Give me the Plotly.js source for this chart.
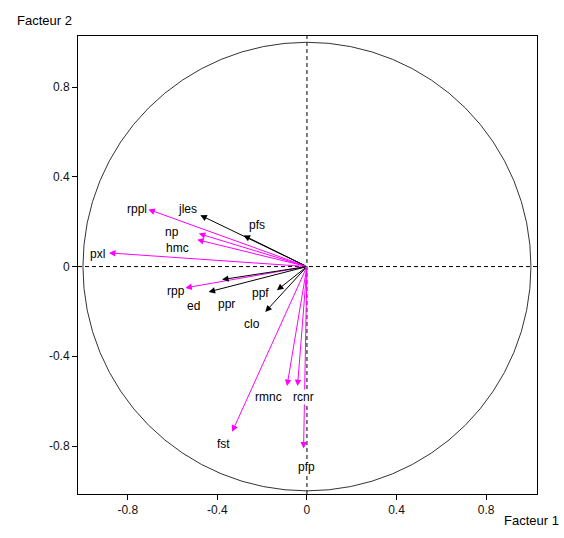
<!DOCTYPE html>
<html>
<head>
<meta charset="utf-8">
<script src="https://cdn.plot.ly/plotly-3.0.1.min.js"></script>
<style>html,body{margin:0;padding:0;background:#fff;}#chart{width:564px;height:538px;}</style>
</head>
<body>
<div id="chart"></div>
<script>
// Variable names
var names   = ["rppl","jles","pfs","np","hmc","pxl","rpp","ppr","ed","ppf","clo","rmnc","rcnr","fst","pfp"];
// Coordinates on Facteur 1 and Facteur 2 (arrow tips)
var fact1   = [-0.708,-0.476,-0.283,-0.483,-0.490,-0.884,-0.543,-0.379,-0.439,-0.134,-0.186,-0.089,-0.042,-0.334,-0.015];
var fact2   = [ 0.255, 0.229, 0.139, 0.147, 0.120, 0.061,-0.095,-0.058,-0.113,-0.106,-0.202,-0.533,-0.533,-0.737,-0.811];
// Group (1 = magenta, 0 = black)
var group   = [1,0,0,1,1,1,1,0,0,0,0,1,1,1,1];
// Label positions (data units)
var labelX  = [-0.758,-0.535,-0.223,-0.602,-0.580,-0.936,-0.584,-0.361,-0.508,-0.208,-0.245,-0.171,-0.015,-0.372, 0.000];
var labelY  = [ 0.258, 0.255, 0.184, 0.154, 0.085, 0.058,-0.110,-0.165,-0.175,-0.120,-0.257,-0.583,-0.580,-0.792,-0.893];
// Tick values
var tickVals = [-0.8,-0.4,0,0.4,0.8];
var tickText = ["-0.8","-0.4","0","0.4","0.8"];

var FONT = "Arial, 'Liberation Sans', sans-serif";
var annotations = [];
for (var i = 0; i < names.length; i++) {
  var col = group[i] ? "#ff00ff" : "#000000";
  annotations.push({
    x: fact1[i], y: fact2[i], xref: "x", yref: "y",
    ax: 0, ay: 0, axref: "x", ayref: "y",
    text: "", showarrow: true, arrowhead: 2, arrowsize: 1.3, arrowwidth: 1,
    arrowcolor: col
  });
}
for (var j = 0; j < names.length; j++) {
  annotations.push({
    x: labelX[j], y: labelY[j], xref: "x", yref: "y",
    text: names[j], showarrow: false, bgcolor: "#ffffff", borderpad: 0,
    font: {family: FONT, size: 12, color: "#000"}
  });
}
annotations.push({x: -0.138, y: 1.034, xref: "paper", yref: "paper", xanchor: "left", yanchor: "middle",
  text: "Facteur 2", showarrow: false, font: {family: FONT, size: 13, color: "#000"}});
annotations.push({x: 1.052, y: -0.057, xref: "paper", yref: "paper", xanchor: "right", yanchor: "middle",
  text: "Facteur 1", showarrow: false, font: {family: FONT, size: 13, color: "#000"}});

var shapes = [
  {type: "circle", xref: "x", yref: "y", x0: -1, x1: 1, y0: -1, y1: 1, layer: "below",
   line: {color: "#333", width: 1}},
  {type: "line", xref: "paper", yref: "y", x0: 0, x1: 1, y0: 0, y1: 0, layer: "below",
   line: {color: "#000", width: 1, dash: "4px,3px"}},
  {type: "line", xref: "x", yref: "paper", x0: 0, x1: 0, y0: 0, y1: 1, layer: "below",
   line: {color: "#000", width: 1, dash: "4px,3px"}}
];

var layout = {
  width: 564, height: 538,
  margin: {l: 78, r: 27, t: 36, b: 44},
  paper_bgcolor: "#fff", plot_bgcolor: "#fff",
  showlegend: false,
  font: {family: FONT, size: 12, color: "#000"},
  xaxis: {range: [-1.022, 1.027], tickvals: tickVals, ticktext: tickText,
    showgrid: false, zeroline: false, showline: true, linecolor: "#000", linewidth: 1, mirror: true,
    ticks: "outside", ticklen: 5, tickcolor: "#000", tickfont: {family: FONT, size: 12, color: "#111"}},
  yaxis: {range: [-1.014, 1.028], tickvals: tickVals, ticktext: tickText,
    showgrid: false, zeroline: false, showline: true, linecolor: "#000", linewidth: 1, mirror: true,
    ticks: "outside", ticklen: 5, tickcolor: "#000", tickfont: {family: FONT, size: 12, color: "#111"}},
  shapes: shapes,
  annotations: annotations
};

var data = [{x: fact1, y: fact2, type: "scatter", mode: "markers", marker: {size: 1, opacity: 0}, hoverinfo: "skip"}];

Plotly.newPlot("chart", data, layout, {displayModeBar: false, staticPlot: true});
</script>
</body>
</html>
